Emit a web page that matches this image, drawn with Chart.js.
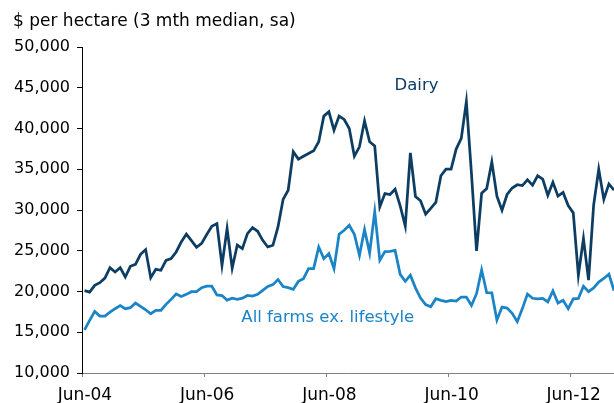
<!DOCTYPE html>
<html>
<head>
<meta charset="utf-8">
<script src="https://cdn.jsdelivr.net/npm/chart.js@4.4.1/dist/chart.umd.min.js"></script>
<style>
  html, body { margin: 0; padding: 0; background: #fff; }
  #wrap { width: 614px; height: 403px; }
</style>
</head>
<body>
<div id="wrap"><canvas id="myChart" width="614" height="403"></canvas></div>
<script>
// monthly, Jun-04 .. Feb-13
const dairy = [
  20100, 19930, 20750, 21080, 21650, 22925, 22390, 22925, 21780, 23090,
  23330, 24560, 25140, 21700, 22720, 22600, 23825, 24030, 24850, 26080,
  27050, 26250, 25420, 25900, 27000, 28000, 28330, 23210, 27720, 22850,
  25700, 25260, 27100, 27840, 27390, 26280, 25460, 25670, 27920, 31300,
  32430, 37140, 36240, 36600, 36940, 37260, 38370, 41520, 42050, 39800,
  41520, 41110, 40000, 36600, 37750, 40940, 38370, 37870, 30380, 32020,
  31900, 32550, 30500, 28030, 37020, 31660, 31130, 29490, 30190, 30930,
  34200, 35020, 35020, 37480, 38790, 43300, 34500, 24970, 32060, 32630,
  35900, 31700, 29980, 31900, 32700, 33100, 33000, 33700, 33050, 34200,
  33800, 31800, 33400, 31700, 32150, 30550, 29650, 22000, 26500, 21400,
  30600, 35000, 31300, 33200, 32450
];
const allFarms = [
  15300, 16450, 17560, 16980, 16980, 17470, 17890, 18260, 17890, 18010,
  18580, 18170, 17760, 17270, 17680, 17680, 18420, 19030, 19690, 19380,
  19650, 19980, 19980, 20470, 20650, 20650, 19580, 19500, 18950, 19190,
  19050, 19190, 19520, 19440, 19650, 20140, 20630, 20840, 21470, 20600,
  20470, 20260, 21240, 21570, 22800, 22800, 25460, 24030, 24650, 22800,
  27020, 27510, 28130, 27020, 24440, 27600, 24720, 29800, 23830, 24900,
  24930, 25050, 22100, 21250, 22000, 20450, 19200, 18400, 18130, 19110,
  18910, 18750, 18910, 18830, 19320, 19320, 18290, 19730, 22650, 19850,
  19830, 16500, 18090, 17970, 17330, 16300, 17900, 19690, 19170, 19110,
  19150, 18720, 20060, 18580, 18910, 17890, 19110, 19150, 20650, 19980,
  20440, 21160, 21600, 22130, 20100
];
const xTickLabels = ['Jun-04', 'Jun-06', 'Jun-08', 'Jun-10', 'Jun-12'];
const yTicks = [10000, 15000, 20000, 25000, 30000, 35000, 40000, 45000, 50000];

const DAIRY_COL = '#0d3d62';
const FARMS_COL = '#1a84c6';
const FONT = 'DejaVu Sans';

Chart.defaults.font.family = FONT;
Chart.defaults.font.size = 16;
Chart.defaults.color = '#000';

const toPoints = arr => arr.map((v, i) => ({x: i, y: v}));

// title + series labels drawn as canvas text
const labelsPlugin = {
  id: 'labels',
  afterDraw(chart) {
    const {ctx, scales: {x, y}} = chart;
    ctx.save();
    ctx.textBaseline = 'middle';
    ctx.font = '17px "' + FONT + '"';
    ctx.fillStyle = '#000';
    ctx.textAlign = 'left';
    ctx.fillText('$ per hectare (3 mth median, sa)', 13, 22);
    ctx.font = '16.5px "' + FONT + '"';
    ctx.fillStyle = DAIRY_COL;
    ctx.textAlign = 'center';
    ctx.fillText('Dairy', x.getPixelForValue(65.2), y.getPixelForValue(45200));
    ctx.fillStyle = FARMS_COL;
    ctx.textAlign = 'left';
    ctx.fillText('All farms ex. lifestyle', x.getPixelForValue(30.8), y.getPixelForValue(16800));
    ctx.restore();
  }
};

const ctx = document.getElementById('myChart').getContext('2d');
const myChart = new Chart(ctx, {
  type: 'line',
  data: {
    datasets: [
      {
        label: 'All farms ex. lifestyle',
        data: toPoints(allFarms),
        borderColor: FARMS_COL,
        borderWidth: 2.75,
        pointRadius: 0,
        tension: 0,
        fill: false
      },
      {
        label: 'Dairy',
        data: toPoints(dairy),
        borderColor: DAIRY_COL,
        borderWidth: 2.75,
        pointRadius: 0,
        tension: 0,
        fill: false
      }
    ]
  },
  options: {
    responsive: false,
    animation: false,
    layout: { padding: { top: 47, right: 0, bottom: 0, left: 0 } },
    plugins: {
      legend: { display: false },
      title: { display: false },
      tooltip: { enabled: false }
    },
    scales: {
      x: {
        type: 'linear',
        min: -0.5,
        max: 104,
        afterBuildTicks: scale => {
          scale.ticks = xTickLabels.map((_, k) => ({value: k * 24 - 0.5}));
        },
        afterFit: scale => { scale.height = 30; },
        grid: {
          drawOnChartArea: false,
          tickLength: 4,
          tickColor: '#808080'
        },
        border: { color: '#808080', width: 1 },
        ticks: {
          padding: 8,
          labelOffset: 3,
          maxRotation: 0,
          autoSkip: false,
          font: { size: 17 },
          callback: (value, index) => xTickLabels[index]
        }
      },
      y: {
        min: 10000,
        max: 50000,
        afterBuildTicks: scale => {
          scale.ticks = yTicks.map(v => ({value: v}));
        },
        afterFit: scale => { scale.width = 82; },
        grid: {
          drawOnChartArea: false,
          tickLength: 5,
          tickColor: '#000'
        },
        border: { color: '#000', width: 1 },
        ticks: {
          padding: 7,
          callback: v => v.toLocaleString('en-US')
        }
      }
    }
  },
  plugins: [labelsPlugin]
});
</script>
</body>
</html>
